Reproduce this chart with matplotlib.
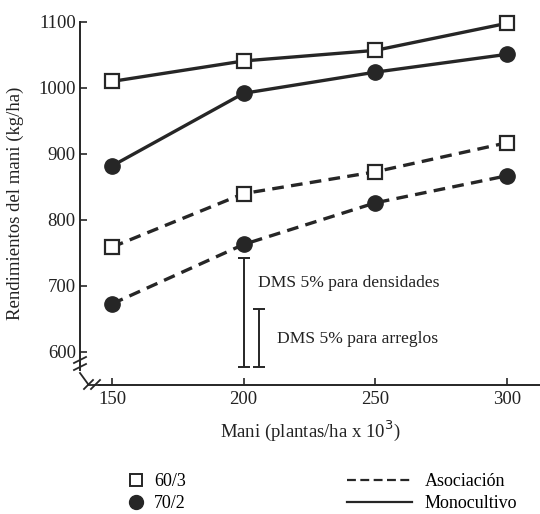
import matplotlib
matplotlib.use("Agg")
import matplotlib.pyplot as plt
from matplotlib.lines import Line2D

plt.rcParams['font.family'] = ['Liberation Serif', 'DejaVu Serif']

densidad = [150, 200, 250, 300]
mono_60_3 = [1010, 1041, 1057, 1098]
mono_70_2 = [882, 992, 1024, 1051]
asoc_60_3 = [759, 840, 873, 917]
asoc_70_2 = [673, 763, 826, 867]

dms_dens = (200, 578, 742)
dms_arr = (206, 578, 665)

yticks = [600, 700, 800, 900, 1000, 1100]
xticks = [150, 200, 250, 300]

INK = '#262626'
fig = plt.figure(figsize=(5.4, 5.14), dpi=100)
ax = fig.add_axes([80/540, 1-385/514, 1-80/540, 363/514])
ax.set_xlim(137.8, 312.6)
ax.set_ylim(550, 1100)

lw = 2.4
dash = (3.5, 2.2)
ax.plot(densidad, mono_60_3, '-', color=INK, lw=lw, marker='s', ms=10,
        mfc='white', mec=INK, mew=1.6, clip_on=False, zorder=3)
ax.plot(densidad, mono_70_2, '-', color=INK, lw=lw, marker='o', ms=11,
        mfc=INK, mec=INK, clip_on=False, zorder=3)
ax.plot(densidad, asoc_60_3, '--', color=INK, lw=lw, dashes=dash, marker='s', ms=10,
        mfc='white', mec=INK, mew=1.6, clip_on=False, zorder=3)
ax.plot(densidad, asoc_70_2, '--', color=INK, lw=lw, dashes=dash, marker='o', ms=11,
        mfc=INK, mec=INK, clip_on=False, zorder=3)

for x, lo, hi in (dms_dens, dms_arr):
    ax.errorbar([x], [(lo + hi) / 2], yerr=[[(hi - lo) / 2], [(hi - lo) / 2]],
                fmt='none', ecolor=INK, elinewidth=1.4, capsize=4, capthick=1.4)
ax.text(205.3, 705, 'DMS 5% para densidades', fontsize=12.6, va='center', color='#222222')
ax.text(212.5, 620, 'DMS 5% para arreglos', fontsize=12.6, va='center', color='#222222')

for s in ['top', 'right']:
    ax.spines[s].set_visible(False)
ax.spines['left'].set_bounds(572, 1100)
ax.spines['bottom'].set_bounds(145, 312.6)
for s in ['left', 'bottom']:
    ax.spines[s].set_linewidth(1.4)
    ax.spines[s].set_color(INK)

ax.set_yticks(yticks)
ax.set_xticks(xticks)
ax.tick_params(direction='in', length=5, width=1.2, colors=INK, labelsize=13.5,
               labelcolor='#222222')
ax.tick_params(axis='y', pad=3)
ax.tick_params(axis='x', pad=4)

# axis break marks
kw = dict(color=INK, lw=1.3, clip_on=False, transform=ax.transAxes)
def px(xp, yp):
    return ((xp - 80) / (540 - 80), (385 - yp) / 363)
def seg(p, q):
    a = px(*p); b = px(*q)
    ax.add_line(Line2D([a[0], b[0]], [a[1], b[1]], **kw))
for y0 in (360, 367):
    seg((74, y0 + 3), (86, y0 - 3))
seg((80, 373), (88, 384))
for xo in (89, 96):
    seg((xo - 5, 389), (xo + 4, 380))
seg((88, 385), (100, 385))

ax.set_xlabel('Mani (plantas/ha x 10$^{3}$)', fontsize=13.5, color='#222222', labelpad=8)
ax.set_ylabel('Rendimientos del mani (kg/ha)', fontsize=13.5, color='#222222', labelpad=10)

# legends
lprop = {'family': 'Liberation Serif', 'size': 13}
leg1 = [Line2D([], [], ls='none', marker='s', ms=9, mfc='white', mec=INK, mew=1.4),
        Line2D([], [], ls='none', marker='o', ms=10, mfc=INK, mec=INK)]
fig.legend(leg1, ['60/3', '70/2'], loc='upper left', bbox_to_anchor=(129/540, 1-473/514),
           frameon=False, prop=lprop, handlelength=0.8, handletextpad=0.6,
           labelspacing=0.3, borderpad=0, borderaxespad=0)
leg2 = [Line2D([], [], ls='--', dashes=(4, 2), lw=1.6, color=INK),
        Line2D([], [], ls='-', lw=1.6, color=INK)]
fig.legend(leg2, ['Asociación', 'Monocultivo'], loc='upper left',
           bbox_to_anchor=(347/540, 1-473/514), frameon=False, prop=lprop,
           handlelength=3.6, handletextpad=0.7, labelspacing=0.3, borderpad=0,
           borderaxespad=0)

fig.savefig('out.png', dpi=100)
